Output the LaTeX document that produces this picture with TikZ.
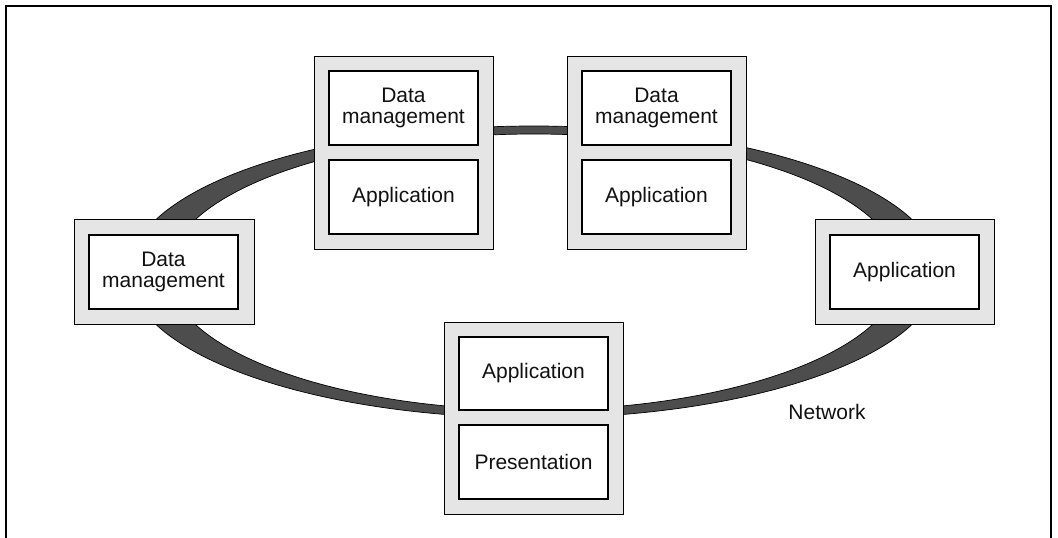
\documentclass[tikz,border=0pt]{standalone}
\usepackage{fontspec}
\setmainfont{Liberation Sans}
\definecolor{ringgray}{HTML}{4D4D4D}
\definecolor{boxgray}{HTML}{E5E5E5}
\definecolor{txt}{HTML}{111111}
\begin{document}
\begin{tikzpicture}[x=1pt,y=-1pt,
  outerbox/.style={draw=black, line width=0.9pt, fill=boxgray, rectangle, inner sep=0pt, minimum width=179pt},
  innerbox/.style={draw=black, line width=1.1pt, fill=white, rectangle, inner sep=0pt, align=center,
     minimum width=149pt, minimum height=74pt, text=txt, font=\fontsize{21}{20.5}\selectfont},
  lbl/.style={text=txt, font=\fontsize{21}{20.5}\selectfont, inner sep=0pt}]
\useasboundingbox (0,0) rectangle (1058,538);
% frame
\draw[line width=2pt] (6,538) -- (6,6) -- (1051,6) -- (1051,538);
% network ring
\coordinate (rc) at (534,272);
\fill[ringgray, even odd rule] (rc) ellipse (405 and 146) (rc) ellipse (366 and 138);
\draw[line width=0.7pt] (rc) ellipse (405 and 146);
\draw[line width=0.7pt] (rc) ellipse (366 and 138);
% top-left
\node[outerbox, minimum height=193pt] (tl) at (403.5,152.5) {};
\node[innerbox] (tld) at (403.5,108) {Data\\management};
\node[innerbox] (tla) at (403.5,197) {Application};
% top-right
\node[outerbox, minimum height=193pt] (tr) at (656.5,152.5) {};
\node[innerbox] (trd) at (656.5,108) {Data\\management};
\node[innerbox] (tra) at (656.5,197) {Application};
% left
\node[outerbox, minimum width=180pt, minimum height=105pt] (l) at (164,271.5) {};
\node[innerbox] (ld) at (163.5,272) {Data\\management};
% right
\node[outerbox, minimum height=105pt] (r) at (904.5,271.5) {};
\node[innerbox] (ra) at (904.5,272) {Application};
% bottom
\node[outerbox, minimum height=192pt] (b) at (533.5,418) {};
\node[innerbox, minimum height=73pt] (ba) at (533.5,373.5) {Application};
\node[innerbox] (bp) at (533.5,462) {Presentation};
% label
\node[lbl] (net) at (827,412) {Network};
\end{tikzpicture}
\end{document}
